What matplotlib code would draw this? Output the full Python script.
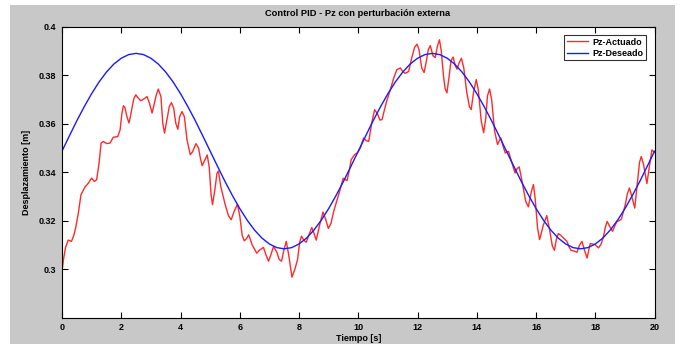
"""
Control PID - Pz con perturbacion externa: desired vs actuated Pz.
"""
import matplotlib
matplotlib.use("Agg")
import matplotlib.pyplot as plt
import matplotlib.patches as mpatches

matplotlib.rcParams["font.family"] = ["Liberation Sans", "DejaVu Sans"]
matplotlib.rcParams["font.weight"] = "bold"

# Pz-Actuado as (t [s], z [m])
actuado = [
    (0.00, 0.2990), (0.05, 0.3040), (0.12, 0.3090), (0.21, 0.3120), (0.32, 0.3115),
    (0.40, 0.3140), (0.46, 0.3170), (0.55, 0.3230), (0.64, 0.3307), (0.78, 0.3340),
    (0.89, 0.3355), (1.00, 0.3376), (1.09, 0.3362), (1.17, 0.3369), (1.25, 0.3437),
    (1.32, 0.3520), (1.39, 0.3527), (1.51, 0.3518), (1.62, 0.3520), (1.73, 0.3544),
    (1.88, 0.3547), (1.96, 0.3574), (2.02, 0.3640), (2.07, 0.3674), (2.12, 0.3668),
    (2.19, 0.3630), (2.26, 0.3603), (2.31, 0.3630), (2.37, 0.3671), (2.43, 0.3705),
    (2.49, 0.3719), (2.58, 0.3705), (2.66, 0.3695), (2.76, 0.3702), (2.87, 0.3712),
    (2.95, 0.3685), (3.04, 0.3644), (3.11, 0.3680), (3.18, 0.3718), (3.25, 0.3743),
    (3.34, 0.3711), (3.40, 0.3602), (3.46, 0.3561), (3.54, 0.3615), (3.62, 0.3670),
    (3.69, 0.3687), (3.77, 0.3664), (3.84, 0.3602), (3.91, 0.3577), (3.97, 0.3629),
    (4.05, 0.3650), (4.13, 0.3629), (4.22, 0.3533), (4.33, 0.3472), (4.41, 0.3485),
    (4.52, 0.3518), (4.61, 0.3499), (4.67, 0.3458), (4.73, 0.3427), (4.80, 0.3445),
    (4.90, 0.3471), (4.97, 0.3420), (5.03, 0.3310), (5.08, 0.3266), (5.15, 0.3320),
    (5.23, 0.3395), (5.28, 0.3405), (5.36, 0.3340), (5.50, 0.3270), (5.62, 0.3220),
    (5.71, 0.3204), (5.80, 0.3235), (5.92, 0.3268), (6.00, 0.3220), (6.08, 0.3140),
    (6.15, 0.3117), (6.22, 0.3125), (6.30, 0.3142), (6.42, 0.3100), (6.57, 0.3066),
    (6.68, 0.3080), (6.80, 0.3090), (6.88, 0.3060), (6.97, 0.3033), (7.05, 0.3060),
    (7.14, 0.3094), (7.25, 0.3070), (7.33, 0.3040), (7.41, 0.3033), (7.49, 0.3080),
    (7.57, 0.3115), (7.65, 0.3060), (7.76, 0.2967), (7.86, 0.3000), (7.95, 0.3040),
    (8.02, 0.3110), (8.08, 0.3136), (8.16, 0.3120), (8.24, 0.3111), (8.33, 0.3140),
    (8.43, 0.3172), (8.50, 0.3150), (8.58, 0.3120), (8.70, 0.3185), (8.81, 0.3236),
    (8.90, 0.3205), (8.99, 0.3168), (9.08, 0.3190), (9.17, 0.3239), (9.35, 0.3313),
    (9.49, 0.3375), (9.55, 0.3370), (9.62, 0.3365), (9.70, 0.3410), (9.76, 0.3452),
    (9.88, 0.3473), (9.97, 0.3480), (10.07, 0.3500), (10.18, 0.3541), (10.27, 0.3530),
    (10.35, 0.3527), (10.45, 0.3600), (10.55, 0.3658), (10.65, 0.3640), (10.73, 0.3615),
    (10.80, 0.3617), (10.95, 0.3690), (11.08, 0.3740), (11.20, 0.3790), (11.30, 0.3823),
    (11.42, 0.3830), (11.50, 0.3815), (11.58, 0.3808), (11.65, 0.3812), (11.70, 0.3816),
    (11.80, 0.3870), (11.90, 0.3915), (11.98, 0.3928), (12.05, 0.3905), (12.14, 0.3830),
    (12.22, 0.3811), (12.30, 0.3860), (12.36, 0.3905), (12.43, 0.3922), (12.52, 0.3880),
    (12.60, 0.3873), (12.67, 0.3920), (12.74, 0.3946), (12.80, 0.3900), (12.88, 0.3790),
    (12.93, 0.3745), (12.99, 0.3727), (13.06, 0.3790), (13.13, 0.3860), (13.20, 0.3875),
    (13.27, 0.3840), (13.33, 0.3825), (13.40, 0.3850), (13.48, 0.3870), (13.56, 0.3830),
    (13.66, 0.3730), (13.75, 0.3670), (13.81, 0.3658), (13.89, 0.3730), (13.98, 0.3782),
    (14.05, 0.3740), (14.15, 0.3610), (14.23, 0.3563), (14.30, 0.3620), (14.36, 0.3715),
    (14.43, 0.3743), (14.50, 0.3700), (14.60, 0.3570), (14.70, 0.3514), (14.76, 0.3530),
    (14.81, 0.3541), (14.88, 0.3510), (14.96, 0.3479), (15.01, 0.3484), (15.07, 0.3486),
    (15.18, 0.3440), (15.29, 0.3397), (15.36, 0.3415), (15.43, 0.3422), (15.53, 0.3360),
    (15.65, 0.3280), (15.74, 0.3257), (15.84, 0.3320), (15.91, 0.3349), (15.97, 0.3290),
    (16.05, 0.3170), (16.12, 0.3122), (16.24, 0.3180), (16.36, 0.3221), (16.46, 0.3160),
    (16.55, 0.3095), (16.62, 0.3078), (16.68, 0.3120), (16.75, 0.3147), (16.83, 0.3140),
    (16.92, 0.3129), (17.04, 0.3115), (17.12, 0.3090), (17.18, 0.3078), (17.28, 0.3075),
    (17.38, 0.3070), (17.47, 0.3100), (17.55, 0.3115), (17.63, 0.3080), (17.72, 0.3046),
    (17.78, 0.3080), (17.83, 0.3106), (17.98, 0.3102), (18.11, 0.3088), (18.20, 0.3105),
    (18.28, 0.3138), (18.34, 0.3175), (18.40, 0.3197), (18.49, 0.3175), (18.58, 0.3156),
    (18.66, 0.3180), (18.73, 0.3197), (18.80, 0.3200), (18.88, 0.3207), (19.01, 0.3266),
    (19.08, 0.3310), (19.15, 0.3335), (19.23, 0.3300), (19.33, 0.3252), (19.42, 0.3360),
    (19.49, 0.3440), (19.55, 0.3465), (19.63, 0.3430), (19.74, 0.3353), (19.82, 0.3420),
    (19.91, 0.3492), (20.00, 0.3481),
]
t_actuado = [p[0] for p in actuado]
z_actuado = [p[1] for p in actuado]

# Pz-Deseado, read every 0.25 s
t_deseado = [i * 0.25 for i in range(81)]
z_deseado = [0.3487, 0.3550, 0.3612, 0.3670, 0.3724, 0.3772, 0.3813, 0.3846, 0.3870, 0.3885,
             0.3890, 0.3885, 0.3870, 0.3846, 0.3813, 0.3772, 0.3724, 0.3670, 0.3612, 0.3550,
             0.3487, 0.3424, 0.3362, 0.3304, 0.3250, 0.3202, 0.3161, 0.3128, 0.3104, 0.3089,
             0.3084, 0.3089, 0.3104, 0.3128, 0.3161, 0.3202, 0.3250, 0.3304, 0.3362, 0.3424,
             0.3487, 0.3550, 0.3612, 0.3670, 0.3724, 0.3772, 0.3813, 0.3846, 0.3870, 0.3885,
             0.3890, 0.3885, 0.3870, 0.3846, 0.3813, 0.3772, 0.3724, 0.3670, 0.3612, 0.3550,
             0.3487, 0.3424, 0.3362, 0.3304, 0.3250, 0.3202, 0.3161, 0.3128, 0.3104, 0.3089,
             0.3084, 0.3089, 0.3104, 0.3128, 0.3161, 0.3202, 0.3250, 0.3304, 0.3362, 0.3424,
             0.3487]

x_ticks = [0, 2, 4, 6, 8, 10, 12, 14, 16, 18, 20]
y_ticks = [0.30, 0.32, 0.34, 0.36, 0.38, 0.40]
y_tick_labels = ["0.3", "0.32", "0.34", "0.36", "0.38", "0.4"]

W, H = 680, 347
fig = plt.figure(figsize=(W / 100, H / 100), dpi=100, facecolor="white")

# grey matlab figure panel
fig.patches.append(mpatches.Rectangle((10 / W, 1 - 344 / H), 665 / W, 339 / H,
                                      transform=fig.transFigure,
                                      facecolor="#c8c8c8", edgecolor="none",
                                      zorder=-10))

ax = fig.add_axes([62 / W, 1 - 317.7 / H, 592.6 / W, 291 / H])
ax.set_zorder(5)
ax.set_facecolor("white")

ax.plot(t_actuado, z_actuado, color="#ff2a2a", linewidth=1.0, label="Pz-Actuado")
ax.plot(t_deseado, z_deseado, color="#1a1aff", linewidth=1.0, label="Pz-Deseado")

ax.set_xlim(0, 20)
ax.set_ylim(0.28, 0.40)
ax.set_xticks(x_ticks)
ax.set_xticklabels([str(x) for x in x_ticks])
ax.set_yticks(y_ticks)
ax.set_yticklabels(y_tick_labels)
ax.tick_params(direction="in", length=4, width=0.8, top=True, right=True,
               labelsize=6.5, pad=4, colors="black")
for lab in ax.get_xticklabels() + ax.get_yticklabels():
    lab.set_fontweight("bold")
for sp in ax.spines.values():
    sp.set_linewidth(0.8)

ax.set_xlabel("Tiempo [s]", fontsize=6.5, fontweight="bold")
ax.set_ylabel("Desplazamiento [m]", fontsize=6.5, fontweight="bold")
ax.xaxis.set_label_coords(0.5, -0.055)
ax.yaxis.set_label_coords(-0.052, 0.5)

fig.text(358 / W, 1 - 13 / H, "Control PID - Pz con perturbación externa",
         ha="center", va="center", fontsize=6.7, fontweight="bold", zorder=6)

leg = ax.legend(loc="upper right", fontsize=6.5, frameon=True, fancybox=False,
                handlelength=2.4, borderpad=0.3, labelspacing=0.25,
                handletextpad=0.5, borderaxespad=0.9)
leg.get_frame().set_edgecolor("black")
leg.get_frame().set_linewidth(0.8)
for txt in leg.get_texts():
    txt.set_fontweight("bold")

plt.savefig("out.png", dpi=100, facecolor=fig.get_facecolor())
